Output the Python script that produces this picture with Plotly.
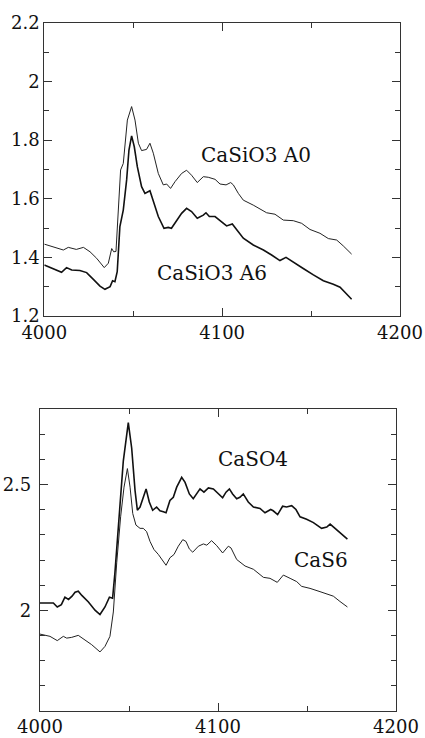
import plotly.graph_objects as go

# ---- Top panel data (CaSiO3) ----
a0_x = [4000, 4005, 4010.7, 4013.5, 4018, 4022, 4025.7, 4029.4, 4033.7, 4036, 4037.9, 4039, 4040.3,
        4042.9, 4044.4, 4046.7, 4049.1, 4051, 4052.9, 4054.7, 4057.5, 4059.4, 4061.3, 4064.1, 4066.9,
        4068.8, 4071, 4073.5, 4077.2, 4080, 4082.8, 4086, 4089.4, 4092.2, 4096, 4098.8, 4102.2,
        4104.8, 4106.3, 4109.1, 4111.9, 4117.5, 4125, 4129.7, 4134.4, 4140, 4144.7, 4149.4, 4155,
        4159.7, 4164.4, 4168.1, 4172.8]
a0_y = [1.445, 1.436, 1.425, 1.434, 1.427, 1.434, 1.419, 1.397, 1.365, 1.38, 1.43, 1.419, 1.42,
        1.698, 1.72, 1.868, 1.914, 1.868, 1.789, 1.764, 1.768, 1.789, 1.755, 1.686, 1.647,
        1.65, 1.635, 1.658, 1.686, 1.697, 1.68, 1.655, 1.675, 1.673, 1.666, 1.65, 1.647,
        1.655, 1.647, 1.618, 1.595, 1.578, 1.552, 1.547, 1.527, 1.525, 1.516, 1.495, 1.482,
        1.464, 1.459, 1.439, 1.411]

a6_x = [4000, 4005, 4009.7, 4012.5, 4015.4, 4020, 4023.8, 4027.6, 4031.3, 4034.1, 4037, 4038.4,
        4039.7, 4041, 4042.5, 4044.4, 4046.3, 4047.6, 4049.1, 4050.6, 4052.3, 4054.7, 4056.6,
        4059.4, 4061.3, 4064.1, 4067.3, 4069.7, 4071.5, 4074.4, 4077.2, 4080, 4082.8, 4086,
        4089.4, 4090.9, 4092.8, 4096, 4099.7, 4102.5, 4105.7, 4108.2, 4111.9, 4117.5, 4123.2,
        4127.8, 4132.5, 4135.9, 4140, 4145.6, 4151.3, 4156.9, 4162.5, 4166.3, 4172.8]
a6_y = [1.374, 1.362, 1.349, 1.365, 1.357, 1.355, 1.348, 1.325, 1.302, 1.291, 1.3, 1.32,
        1.317, 1.351, 1.505, 1.561, 1.664, 1.766, 1.814, 1.777, 1.709, 1.641, 1.618,
        1.627, 1.59, 1.539, 1.499, 1.502, 1.499, 1.527, 1.55, 1.567, 1.556, 1.533,
        1.544, 1.552, 1.539, 1.539, 1.522, 1.507, 1.514, 1.493, 1.465, 1.442, 1.425,
        1.408, 1.389, 1.4, 1.385, 1.362, 1.34, 1.32, 1.308, 1.298, 1.257]

# ---- Bottom panel data (CaSO4 / CaS6) ----
so4_x = [4000, 4007.5, 4009.7, 4012, 4014, 4016, 4018, 4019.7, 4021.5, 4023.5, 4027.2, 4030.9,
         4033.7, 4036.5, 4039, 4040.8, 4042.1, 4044, 4046.8, 4049.6, 4051.5, 4053.4, 4054.7,
         4056.2, 4058, 4059.6, 4061.4, 4063.3, 4065.5, 4067.4, 4069.3, 4070.8, 4073, 4074.9,
         4076.8, 4079.6, 4081.5, 4083.9, 4086.1, 4088, 4089.9, 4092.1, 4094.6, 4097.4, 4100.2,
         4102.6, 4104.5, 4106.4, 4108.2, 4110.5, 4112.3, 4114.2, 4117, 4119.9, 4123.6, 4126.4,
         4129.6, 4131, 4133.5, 4136.3, 4138.5, 4141.4, 4143.8, 4146.1, 4149.8, 4153.6, 4158.2,
         4161.1, 4163, 4165.7, 4168.5, 4172.7]
so4_y = [2.029, 2.029, 2.013, 2.022, 2.052, 2.043, 2.056, 2.072, 2.076, 2.059, 2.033, 2.0,
         1.983, 2.013, 2.052, 2.048, 2.15, 2.32, 2.594, 2.747, 2.646, 2.476, 2.398,
         2.411, 2.45, 2.483, 2.431, 2.398, 2.411, 2.396, 2.392, 2.388, 2.437, 2.45,
         2.49, 2.529, 2.509, 2.463, 2.444, 2.463, 2.483, 2.47, 2.487, 2.483, 2.463,
         2.448, 2.47, 2.483, 2.463, 2.444, 2.45, 2.463, 2.431, 2.411, 2.405, 2.388,
         2.401, 2.396, 2.381, 2.414, 2.411, 2.416, 2.401, 2.372, 2.362, 2.349, 2.326,
         2.331, 2.343, 2.326, 2.307, 2.283]

s6_x = [4000, 4005.6, 4009.7, 4013.1, 4015, 4017.8, 4021.5, 4025.3, 4029, 4033.7, 4036.5, 4039.3,
        4041.2, 4043.1, 4045.3, 4047.2, 4049.1, 4050.6, 4052.1, 4053.9, 4056.2, 4058, 4059.9,
        4061.8, 4064, 4066.5, 4068.4, 4070.8, 4073, 4075.3, 4077.7, 4080.2, 4082, 4083.9,
        4085.8, 4089, 4091.8, 4093.7, 4096.4, 4099.3, 4102.6, 4105.8, 4107.3, 4110.5, 4115.2,
        4119.9, 4125.5, 4129.2, 4133.3, 4136.7, 4140.5, 4144.2, 4147, 4151.7, 4157.3, 4162,
        4164.8, 4168.5, 4172.7]
s6_y = [1.905, 1.896, 1.879, 1.896, 1.889, 1.892, 1.9, 1.883, 1.863, 1.834, 1.856, 1.896,
        1.993, 2.189, 2.372, 2.49, 2.564, 2.49, 2.385, 2.339, 2.326, 2.326, 2.313,
        2.274, 2.242, 2.222, 2.202, 2.179, 2.209, 2.222, 2.255, 2.281, 2.274, 2.244,
        2.231, 2.255, 2.264, 2.259, 2.277, 2.257, 2.228, 2.255, 2.248, 2.202, 2.176,
        2.163, 2.131, 2.127, 2.111, 2.14, 2.127, 2.114, 2.095, 2.087, 2.074, 2.061,
        2.056, 2.035, 2.013]

labels_top = ["CaSiO3 A0", "CaSiO3 A6"]
labels_bot = ["CaSO4", "CaS6"]

W, H = 425, 738
FONT = dict(family="DejaVu Serif", size=18, color="#111")
FONT2 = dict(family="DejaVu Serif", size=20, color="#111")

fig = go.Figure()
fig.add_trace(go.Scatter(x=a0_x, y=a0_y, mode="lines", line=dict(color="#222", width=1),
                         xaxis="x", yaxis="y", showlegend=False))
fig.add_trace(go.Scatter(x=a6_x, y=a6_y, mode="lines", line=dict(color="#111", width=1.6),
                         xaxis="x", yaxis="y", showlegend=False))
fig.add_trace(go.Scatter(x=so4_x, y=so4_y, mode="lines", line=dict(color="#111", width=1.6),
                         xaxis="x2", yaxis="y2", showlegend=False))
fig.add_trace(go.Scatter(x=s6_x, y=s6_y, mode="lines", line=dict(color="#222", width=1),
                         xaxis="x2", yaxis="y2", showlegend=False))

def ax(domain, rng, dtick, minor_dtick, anchor, standoff, **kw):
    return dict(domain=domain, range=rng, dtick=dtick, tick0=rng[0],
                showgrid=False, zeroline=False, showline=True, linecolor="#333", linewidth=1.2,
                mirror="allticks", ticks="inside", ticklen=8, tickwidth=1.2, tickcolor="#333",
                minor=dict(dtick=minor_dtick, ticks="inside", ticklen=5, tickwidth=1.2,
                           tickcolor="#333", showgrid=False),
                tickfont=FONT, anchor=anchor, automargin=False, fixedrange=True,
                ticklabelstandoff=standoff, **kw)

def fx(px):
    return px / W

def fy(py):
    return 1 - py / H

fig.update_layout(
    width=W, height=H, margin=dict(l=0, r=0, t=0, b=0),
    paper_bgcolor="white", plot_bgcolor="white",
    font=dict(family="DejaVu Serif"),
    xaxis=ax([fx(44.3), fx(400)], [4000, 4200], 100, 50, "y", 0),
    yaxis=ax([fy(316), fy(22.7)], [1.2, 2.2], 0.2, 0.1, "x", 0),
    xaxis2=ax([fx(40), fx(396)], [4000, 4200], 100, 50, "y2", 0),
    yaxis2=ax([fy(710.7), fy(409.3)], [1.6, 2.8], 0.5, 0.1, "x2", 4, tickvals=[2, 2.5]),
    annotations=[
        dict(x=4119, y=1.749, xref="x", yref="y", text=labels_top[0], showarrow=False, font=FONT2),
        dict(x=4094.5, y=1.345, xref="x", yref="y", text=labels_top[1], showarrow=False, font=FONT2),
        dict(x=4119.5, y=2.603, xref="x2", yref="y2", text=labels_bot[0], showarrow=False, font=FONT2),
        dict(x=4158, y=2.202, xref="x2", yref="y2", text=labels_bot[1], showarrow=False, font=FONT2),
    ],
)

fig.write_html(
    "out.html",
    config={"displayModeBar": False},
    post_script="document.body.style.margin='0px';document.body.style.overflow='hidden';",
)
